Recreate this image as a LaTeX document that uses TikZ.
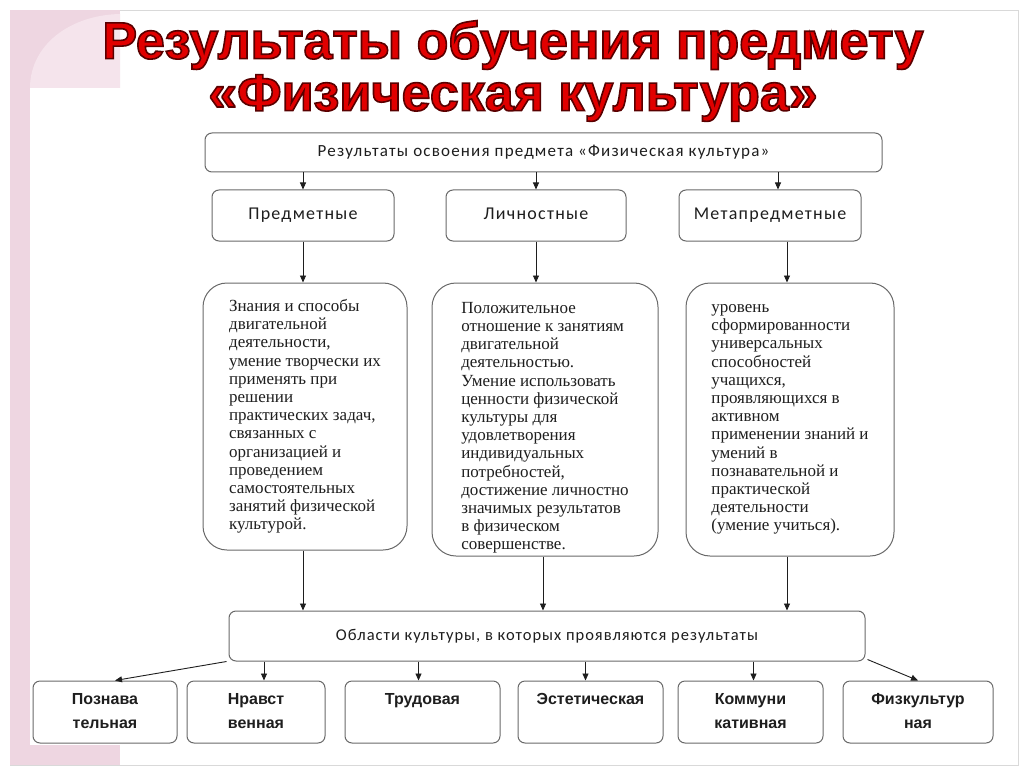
\documentclass[tikz,border=0pt]{standalone}
\usepackage{fontspec}
\setmainfont{Liberation Serif}
\newfontfamily\calfnt[LetterSpace=7]{Carlito}
\newfontfamily\calfntb[LetterSpace=6]{Carlito}
\newfontfamily\arfnt{Liberation Sans}
\usetikzlibrary{arrows.meta,calc}
\definecolor{pinkbg}{RGB}{238,214,225}
\definecolor{pinklt}{RGB}{245,228,236}
\definecolor{edge}{RGB}{105,105,105}
\definecolor{ink}{RGB}{30,30,30}
\definecolor{titlered}{RGB}{225,0,0}
\newcommand{\outlined}[1]{{\color{titlered}\special{pdf:literal direct 2 Tr 1.6 w 0.35 0 0 RG}#1\special{pdf:literal direct 0 Tr}}}
\tikzset{
  box/.style={draw=edge, line width=1pt, rounded corners=7pt, fill=white, inner sep=0pt, text=ink},
  hdr/.style={box, font=\calfnt\fontsize{17}{20}\selectfont},
  big/.style={box, rounded corners=24pt, align=left, font=\fontsize{17}{18.2}\selectfont},
  area/.style={box, align=center, minimum height=62, font=\arfnt\bfseries\fontsize{16}{24}\selectfont},
  arr/.style={draw=ink, line width=0.9pt, -{Triangle[length=7pt,width=6pt]}},
  ttl/.style={font=\arfnt\bfseries\fontsize{52}{56}\selectfont, inner sep=0pt}
}
\begin{document}
\begin{tikzpicture}[x=1pt,y=-1pt]
\useasboundingbox (0,0) rectangle (1024,767);
\fill[white] (0,0) rectangle (1024,767);
% slide frame and pink decoration
\draw[gray!30, line width=0.6pt] (10,10) rectangle (1018,765);
\fill[pinkbg] (10,10) rectangle (120,88);
\fill[pinkbg] (10,10) rectangle (30,765);
\fill[pinkbg] (10,745) rectangle (120,765);
\fill[pinklt] (30,88) .. controls (30,45) and (70,15) .. (120,14) -- (120,88) -- cycle;
% title
\node[ttl] (t1) at (513,45) {\outlined{Результаты обучения предмету}};
\node[ttl] (t2) at (513,98) {\outlined{«Физическая культура»}};
% top row
\node[hdr, minimum width=677, minimum height=39] (top) at (543.5,152.5) {\strut Результаты освоения предмета «Физическая культура»};
\node[hdr, minimum width=182, minimum height=51, font=\calfnt\fontsize{18}{20}\selectfont] (pred) at (303,215.5) {\strut Предметные};
\node[hdr, minimum width=180, minimum height=51, font=\calfnt\fontsize{18}{20}\selectfont] (lich) at (536,215.5) {\strut Личностные};
\node[hdr, minimum width=182, minimum height=51, font=\calfnt\fontsize{18}{20}\selectfont] (meta) at (770,215.5) {\strut Метапредметные};
% big boxes
\node[big, minimum width=204, minimum height=267] (b1) at (305,416.5) {Знания и способы\\двигательной\\деятельности,\\умение творчески их\\применять при\\решении\\практических задач,\\связанных с\\организацией и\\проведением\\самостоятельных\\занятий физической\\культурой.};
\node[big, minimum width=226, minimum height=273] (b2) at (545,419.5) {\rule{0pt}{28pt}Положительное\\отношение к занятиям\\двигательной\\деятельностью.\\Умение использовать\\ценности физической\\культуры для\\удовлетворения\\индивидуальных\\потребностей,\\достижение личностно\\значимых результатов\\в физическом\\совершенстве.};
\node[big, minimum width=208, minimum height=273] (b3) at (790,419.5) {уровень\\сформированности\\универсальных\\способностей\\учащихся,\\проявляющихся в\\активном\\применении знаний и\\умений в\\познавательной и\\практической\\деятельности\\(умение учиться).};
% areas
\node[hdr, minimum width=636, minimum height=50, font=\calfntb\fontsize{16.5}{20}\selectfont] (obl) at (547,636) {\strut Области культуры, в которых проявляются результаты};
\node[area, minimum width=144] (c1) at (105,712) {\strut Познава\\\strut тельная};
\node[area, minimum width=138] (c2) at (256,712) {\strut Нравст\\\strut венная};
\node[area, minimum width=155] (c3) at (422.5,712) {\strut Трудовая\\\strut};
\node[area, minimum width=145] (c4) at (590.5,712) {\strut Эстетическая\\\strut};
\node[area, minimum width=145] (c5) at (750.5,712) {\strut Коммуни\\\strut кативная};
\node[area, minimum width=150] (c6) at (918,712) {\strut Физкультур\\\strut ная};
% helper coordinates
\coordinate (mtop) at ($(meta.north)+(8,0)$);
\coordinate (mbot) at ($(meta.south)+(17,0)$);
\coordinate (k1) at ($(c1.north)+(10,0)$);
\coordinate (k2) at ($(c2.north)+(8,0)$);
\coordinate (k3) at ($(c3.north)+(-4,0)$);
\coordinate (k4) at ($(c4.north)+(-5,0)$);
\coordinate (k5) at ($(c5.north)+(3,0)$);
% connectors
\draw[arr] (top.south -| pred.north) -- (pred.north);
\draw[arr] (top.south -| lich.north) -- (lich.north);
\draw[arr] (top.south -| mtop) -- (mtop);
\draw[arr] (pred.south) -- (b1.north -| pred.south);
\draw[arr] (lich.south) -- (b2.north -| lich.south);
\draw[arr] (mbot) -- (b3.north -| mbot);
\draw[arr] (b1.south -| pred.south) -- (obl.north -| pred.south);
\draw[arr] (b2.south -| 543,0) -- (obl.north -| 543,0);
\draw[arr] (b3.south -| mbot) -- (obl.north -| mbot);
\draw[arr] ($(obl.south west)+(-2,0)$) -- (k1);
\draw[arr] (obl.south -| k2) -- (k2);
\draw[arr] (obl.south -| k3) -- (k3);
\draw[arr] (obl.south -| k4) -- (k4);
\draw[arr] (obl.south -| k5) -- (k5);
\draw[arr] ($(obl.south east)+(2,-2)$) -- (c6.north);
\end{tikzpicture}
\end{document}
